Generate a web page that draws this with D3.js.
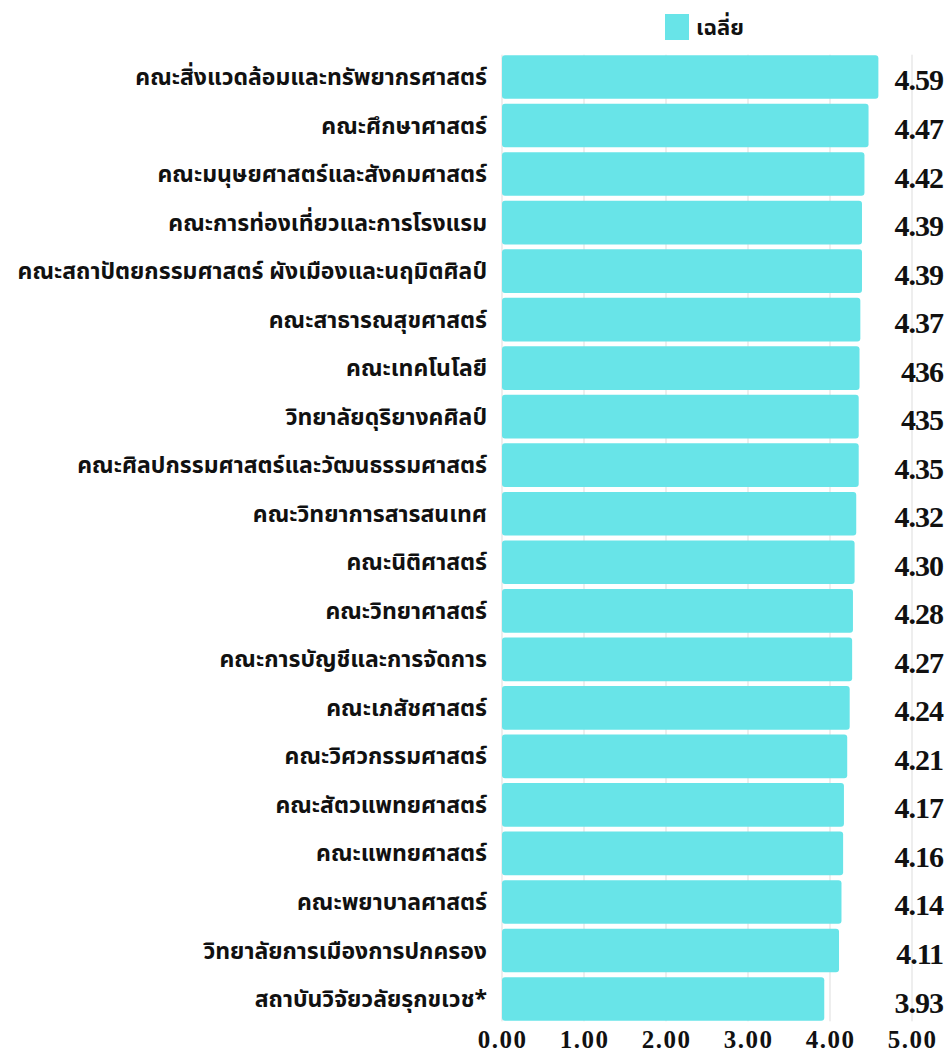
<!DOCTYPE html>
<html lang="th">
<head>
    <meta charset="UTF-8">
    <title>ค่าเฉลี่ยรายคณะ</title>
    <script src="https://d3js.org/d3.v7.js"></script>
    <style>
        body {
            margin: 0;
            background: #fff;
        }
        .cat-label {
            font-family: "Noto Sans Thai", "Noto Sans", "DejaVu Sans", sans-serif;
            font-weight: bold;
            font-size: 23px;
            fill: #111;
        }
        .val-label {
            font-family: "Liberation Serif", "DejaVu Serif", serif;
            font-weight: bold;
            font-size: 30px;
            fill: #111;
            letter-spacing: -1px;
        }
        .tick text {
            font-family: "Liberation Serif", "DejaVu Serif", serif;
            font-weight: bold;
            font-size: 25px;
            fill: #111;
            letter-spacing: 1.5px;
        }
        .legend-text {
            font-family: "Noto Sans Thai", "Noto Sans", "DejaVu Sans", sans-serif;
            font-weight: bold;
            font-size: 22px;
            fill: #111;
        }
    </style>
</head>
<body>
    <svg id="chart"></svg>

    <script>
        // Data
        const faculties = [
            "คณะสิ่งแวดล้อมและทรัพยากรศาสตร์",
            "คณะศึกษาศาสตร์",
            "คณะมนุษยศาสตร์และสังคมศาสตร์",
            "คณะการท่องเที่ยวและการโรงแรม",
            "คณะสถาปัตยกรรมศาสตร์ ผังเมืองและนฤมิตศิลป์",
            "คณะสาธารณสุขศาสตร์",
            "คณะเทคโนโลยี",
            "วิทยาลัยดุริยางคศิลป์",
            "คณะศิลปกรรมศาสตร์และวัฒนธรรมศาสตร์",
            "คณะวิทยาการสารสนเทศ",
            "คณะนิติศาสตร์",
            "คณะวิทยาศาสตร์",
            "คณะการบัญชีและการจัดการ",
            "คณะเภสัชศาสตร์",
            "คณะวิศวกรรมศาสตร์",
            "คณะสัตวแพทยศาสตร์",
            "คณะแพทยศาสตร์",
            "คณะพยาบาลศาสตร์",
            "วิทยาลัยการเมืองการปกครอง",
            "สถาบันวิจัยวลัยรุกขเวช*"
        ];
        const means = [4.59, 4.47, 4.42, 4.39, 4.39, 4.37, 4.36, 4.35, 4.35, 4.32,
                       4.30, 4.28, 4.27, 4.24, 4.21, 4.17, 4.16, 4.14, 4.11, 3.93];
        // value labels as printed on the chart
        const valueLabels = ["4.59", "4.47", "4.42", "4.39", "4.39", "4.37", "436", "435", "4.35", "4.32",
                             "4.30", "4.28", "4.27", "4.24", "4.21", "4.17", "4.16", "4.14", "4.11", "3.93"];
        const xTicks = [0, 1, 2, 3, 4, 5];
        const legendName = "เฉลี่ย";

        // Configuration
        const width = 950;
        const height = 1052;
        const barColor = "#68e4e8";
        const gridColor = "#dddddd";

        const data = faculties.map((name, i) => ({name, value: means[i], label: valueLabels[i]}));

        const svg = d3.select("#chart")
            .attr("width", width)
            .attr("height", height);

        const x = d3.scaleLinear()
            .domain([0, 5])
            .range([502, 912]);

        const y = d3.scaleBand()
            .domain(faculties)
            .range([52.7, 1023.3])
            .paddingInner(0.1)
            .paddingOuter(0.05);

        const gridTop = y.range()[0] + 2;
        const gridBottom = y.range()[1] - 2;

        // Grid lines
        svg.append("g")
            .selectAll("line")
            .data(xTicks)
            .enter()
            .append("line")
            .attr("x1", d => x(d))
            .attr("x2", d => x(d))
            .attr("y1", gridTop)
            .attr("y2", gridBottom)
            .attr("stroke", gridColor)
            .attr("stroke-width", 1);

        // Bars
        svg.append("g")
            .selectAll("rect")
            .data(data)
            .enter()
            .append("rect")
            .attr("x", x(0))
            .attr("y", d => y(d.name))
            .attr("width", d => x(d.value) - x(0))
            .attr("height", y.bandwidth())
            .attr("rx", 3)
            .attr("fill", barColor);

        // Category labels
        svg.append("g")
            .selectAll("text")
            .data(data)
            .enter()
            .append("text")
            .attr("class", "cat-label")
            .attr("x", 487)
            .attr("y", d => y(d.name) + y.bandwidth() / 2)
            .attr("dy", "0.35em")
            .attr("text-anchor", "end")
            .text(d => d.name);

        // Value labels
        svg.append("g")
            .selectAll("text")
            .data(data)
            .enter()
            .append("text")
            .attr("class", "val-label")
            .attr("x", 943)
            .attr("y", d => y(d.name) + y.bandwidth() / 2 + 3)
            .attr("dy", "0.35em")
            .attr("text-anchor", "end")
            .text(d => d.label);

        // X axis
        const xAxis = d3.axisBottom(x)
            .tickValues(xTicks)
            .tickFormat(d3.format(".2f"))
            .tickSize(0)
            .tickPadding(7);

        svg.append("g")
            .attr("transform", `translate(0, ${gridBottom + 2})`)
            .call(xAxis)
            .call(g => g.select(".domain").remove());

        // Legend
        const legend = svg.append("g")
            .attr("transform", "translate(665, 14)");

        legend.append("rect")
            .attr("width", 24)
            .attr("height", 26)
            .attr("fill", barColor);

        legend.append("text")
            .attr("class", "legend-text")
            .attr("x", 31)
            .attr("y", 13)
            .attr("dy", "0.35em")
            .text(legendName);
    </script>
</body>
</html>
